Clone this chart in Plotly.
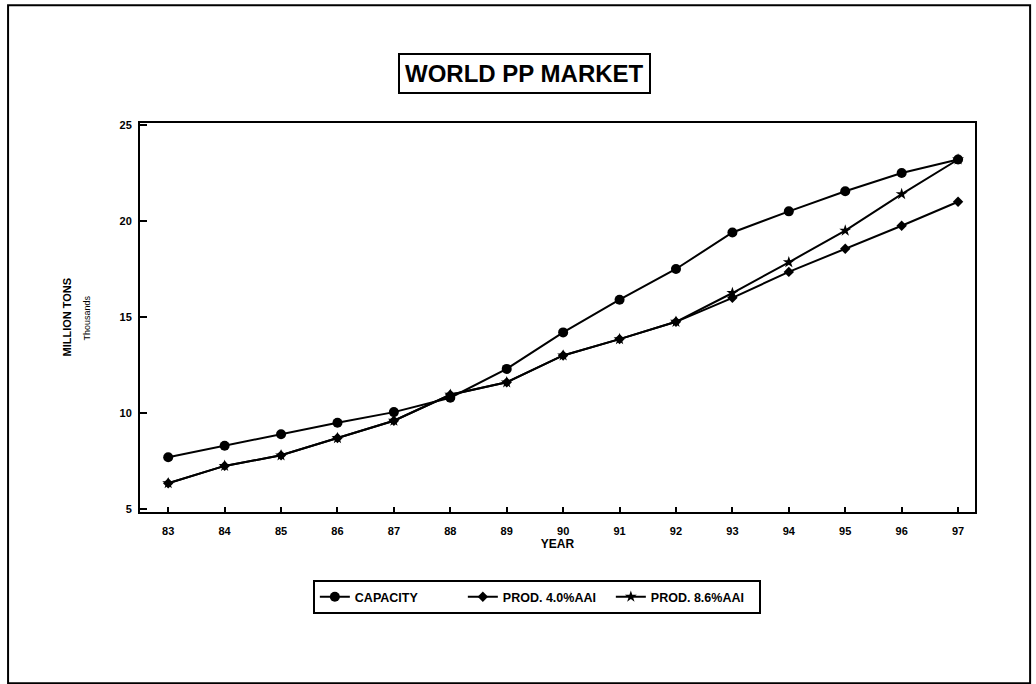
import plotly.graph_objects as go

years = [83, 84, 85, 86, 87, 88, 89, 90, 91, 92, 93, 94, 95, 96, 97]
year_labels = ["83", "84", "85", "86", "87", "88", "89", "90", "91", "92", "93", "94", "95", "96", "97"]
capacity = [7.7, 8.3, 8.9, 9.5, 10.05, 10.8, 12.3, 14.2, 15.9, 17.5, 19.4, 20.5, 21.55, 22.5, 23.2]
prod_40 = [6.35, 7.25, 7.8, 8.7, 9.6, 10.95, 11.6, 13.0, 13.85, 14.75, 16.0, 17.35, 18.55, 19.75, 21.0]
prod_86 = [6.35, 7.25, 7.8, 8.7, 9.6, 10.95, 11.6, 13.0, 13.85, 14.75, 16.25, 17.85, 19.5, 21.4, 23.2]
y_ticks = [5, 10, 15, 20, 25]

FONT = "Liberation Sans"

fig = go.Figure()
fig.add_trace(go.Scatter(x=years, y=capacity, name="<b>CAPACITY</b>", mode="lines+markers",
                         line=dict(color="black", width=2),
                         marker=dict(symbol="circle", size=10, color="black")))
fig.add_trace(go.Scatter(x=years, y=prod_40, name="<b>PROD. 4.0%AAI</b>", mode="lines+markers",
                         line=dict(color="black", width=2),
                         marker=dict(symbol="diamond", size=8, color="black")))
fig.add_trace(go.Scatter(x=years, y=prod_86, name="<b>PROD. 8.6%AAI</b>", mode="lines+markers",
                         line=dict(color="black", width=2),
                         marker=dict(symbol="star", size=9, color="black")))

fig.update_layout(
    width=1036, height=684,
    margin=dict(l=140, r=61, t=123, b=172),
    paper_bgcolor="white", plot_bgcolor="white",
    font=dict(family=FONT, color="black"),
    showlegend=True,
    legend=dict(orientation="h", x=0.207, xanchor="left", y=-0.175, yanchor="top",
                bordercolor="black", borderwidth=2, bgcolor="white",
                font=dict(size=12.5, family=FONT, color="black"),
                entrywidth=103, entrywidthmode="pixels", itemwidth=30),
    xaxis=dict(range=[82.5, 97.3], tickmode="array", tickvals=years,
               ticktext=["<b>%s</b>" % t for t in year_labels],
               ticks="inside", ticklen=5, tickwidth=1.5, tickcolor="black",
               showline=True, linecolor="black", linewidth=2, mirror=True,
               showgrid=False, zeroline=False, ticklabelstandoff=8,
               tickfont=dict(size=11, family=FONT),
               title=dict(text="<b>YEAR</b>", font=dict(size=12, family=FONT), standoff=2)),
    yaxis=dict(range=[4.85, 25.1], tickmode="array", tickvals=y_ticks,
               ticktext=["<b>%d</b>" % v for v in y_ticks],
               ticks="inside", ticklen=7, tickwidth=1.5, tickcolor="black",
               showline=True, linecolor="black", linewidth=2, mirror=True,
               showgrid=False, zeroline=False,
               tickfont=dict(size=11, family=FONT), ticklabelstandoff=4),
    annotations=[
        dict(text="<b>WORLD PP MARKET</b>", xref="paper", yref="paper", x=0.461, y=1.128,
             xanchor="center", yanchor="middle", showarrow=False,
             font=dict(size=24, family=FONT, color="black"),
             bordercolor="black", borderwidth=2, borderpad=5, bgcolor="white"),
        dict(text="<b>MILLION TONS</b>", xref="paper", yref="paper", x=-0.0886, y=0.5,
             xanchor="center", yanchor="middle", textangle=-90, showarrow=False,
             font=dict(size=11, family=FONT, color="black")),
        dict(text="Thousands", xref="paper", yref="paper", x=-0.0635, y=0.5,
             xanchor="center", yanchor="middle", textangle=-90, showarrow=False,
             font=dict(size=9, family=FONT, color="black")),
    ],
    shapes=[
        dict(type="rect", xref="paper", yref="paper", x0=-0.158, x1=1.066, y0=-0.44, y1=1.303,
             line=dict(color="black", width=2), fillcolor="rgba(0,0,0,0)", layer="below"),
    ],
)

fig.write_html("out.html")
